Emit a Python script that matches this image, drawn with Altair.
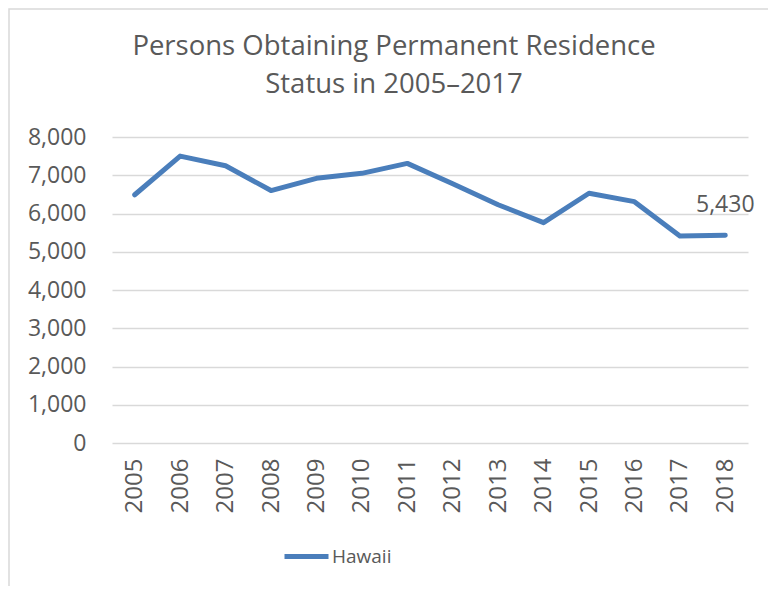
import altair as alt
import pandas as pd

years = ["2005", "2006", "2007", "2008", "2009", "2010", "2011",
         "2012", "2013", "2014", "2015", "2016", "2017", "2018"]
persons = [6490, 7500, 7250, 6600, 6920, 7050, 7310,
           6780, 6230, 5760, 6530, 6310, 5410, 5430]
series = "Hawaii"
y_ticks = [0, 1000, 2000, 3000, 4000, 5000, 6000, 7000, 8000]
title_lines = ["Persons Obtaining Permanent Residence", "Status in 2005\u20132017"]

df = pd.DataFrame({"Year": years, "Persons": persons, "Series": series})
last = df.tail(1)

FONT = "Open Sans"
TXT = "#595959"
GRID = "#d9d9d9"
LINE = "#4a7ebb"

W, H = 636, 306
PL, PT = 104, 129

x_enc = alt.X("Year:O", sort=years,
              scale=alt.Scale(type="point", padding=0.5),
              axis=alt.Axis(title=None, labelAngle=270, labelAlign="right",
                            labelBaseline="middle", labelPadding=15,
                            labelFontSize=24, labelColor=TXT, labelFont=FONT,
                            ticks=False, domain=False, grid=False))
y_enc = alt.Y("Persons:Q", scale=alt.Scale(domain=[0, 8000], nice=False),
              axis=alt.Axis(title=None, values=y_ticks, format=",.0f",
                            labelFontSize=23, labelColor=TXT, labelFont=FONT,
                            labelPadding=26, ticks=False, domain=False,
                            labelOverlap=False,
                            grid=True, gridColor=GRID, gridWidth=1.5))

frame = alt.Chart(df.head(1)).mark_rect(fill=None, stroke=GRID, strokeWidth=1.5).encode(
    x=alt.value(-PL + 1), x2=alt.value(W + 200),
    y=alt.value(-PT + 1), y2=alt.value(H + 300))

title1 = alt.Chart(df.head(1)).mark_text(
    text=title_lines[0], fontSize=27.5, font=FONT, color=TXT,
    align="center", baseline="middle").encode(x=alt.value(394 - 112), y=alt.value(47 - 137))
title2 = alt.Chart(df.head(1)).mark_text(
    text=title_lines[1], fontSize=27.5, font=FONT, color=TXT,
    align="center", baseline="middle").encode(x=alt.value(394 - 112), y=alt.value(85 - 137))

line = alt.Chart(df).mark_line(strokeWidth=5, strokeCap="round", strokeJoin="round").encode(
    x=x_enc, y=y_enc,
    color=alt.Color("Series:N", scale=alt.Scale(domain=[series], range=[LINE]),
                    legend=alt.Legend(title=None, orient="none", legendX=170, legendY=395,
                                      symbolType="stroke", symbolStrokeWidth=5,
                                      symbolSize=1936, labelFontSize=19,
                                      labelColor=TXT, labelFont=FONT, labelOffset=1)))

label = alt.Chart(last).mark_text(fontSize=23, font=FONT, color=TXT,
                                  align="center", baseline="alphabetic", dy=-23).encode(
    x=x_enc, y=y_enc,
    text=alt.Text("Persons:Q", format=",.0f"))

chart = alt.layer(frame, title1, title2, line, label).properties(
    width=W, height=H,
    autosize=alt.AutoSizeParams(type="none"),
    padding={"left": PL, "top": PT, "right": 760 - PL - W, "bottom": 578 - PT - H},
).configure(background="white").configure_view(stroke=None)

chart.save("out.html", embed_options={"renderer": "svg", "actions": False})
